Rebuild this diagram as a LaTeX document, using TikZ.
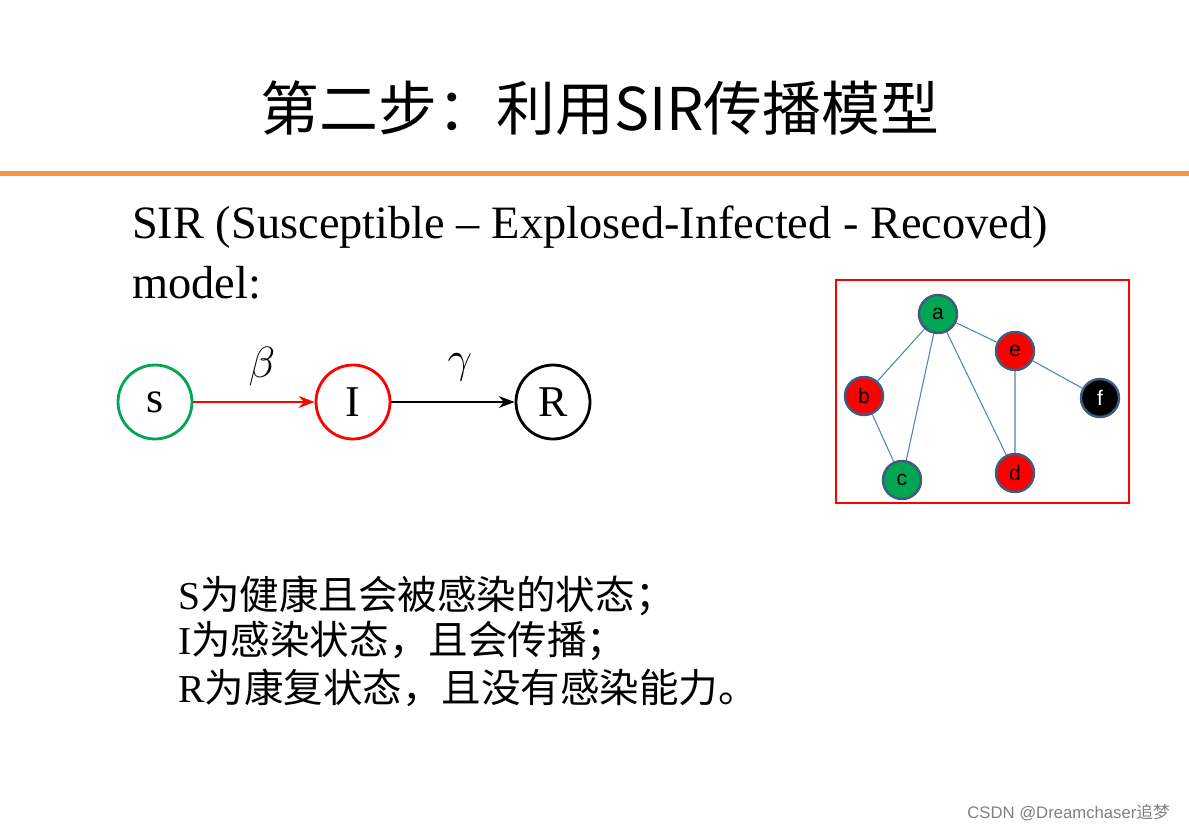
\documentclass[tikz,border=0pt]{standalone}
\usepackage{fontspec}
\setmainfont{Liberation Serif}
\newfontfamily\cjk{Noto Sans CJK SC}
\newfontfamily\lsans{Liberation Sans}
\usetikzlibrary{arrows.meta}
\definecolor{orng}{HTML}{F79646}
\definecolor{gedge}{HTML}{4F81BD}
\definecolor{gbord}{HTML}{3F5B7F}
\definecolor{ggreen}{HTML}{00A651}
\tikzset{
  big/.style={circle,draw,line width=1.6pt,minimum size=1.48cm,inner sep=0pt,font=\fontsize{25}{25}\selectfont},
  gn/.style={circle,draw=gbord,line width=1.4pt,minimum size=0.76cm,inner sep=0pt,font=\lsans\fontsize{12}{12}\selectfont},
  ge/.style={gedge,line width=0.6pt},
  arr/.style={line width=1.4pt,-{Stealth[length=9pt]}}
}
\begin{document}
\begin{tikzpicture}[x=0.02cm,y=-0.02cm]
\useasboundingbox (0,0) rectangle (1189,833);
\node (title) at (600,108) {\fontsize{33.5}{33.5}\selectfont\cjk 第二步：利用SIR传播模型};
\fill[orng] (0,171) rectangle (1189,176);
\node[anchor=west] (l1) at (126,227) {\fontsize{26.4}{26.4}\selectfont SIR (Susceptible – Explosed-Infected - Recoved)};
\node[anchor=west] (l2) at (126,283) {\fontsize{26.4}{26.4}\selectfont model:};
\node[big,draw=ggreen] (s) at (155,402) {s};
\node[big,draw=red] (i) at (353,402) {I};
\node[big,draw=black] (r) at (553,402) {R};
\draw[arr,red] (s) -- (i);
\draw[arr,black] (i) -- (r);
\node (beta) at (262,367) {\fontsize{25}{25}\selectfont$\beta$};
\node (gamma) at (460,367) {\fontsize{25}{25}\selectfont$\gamma$};
\draw[red,line width=1.3pt] (836,280) rectangle (1129,503);
\node[gn,fill=ggreen] (a) at (938,314) {a};
\node[gn,fill=red] (e) at (1015,351) {e};
\node[gn,fill=red] (b) at (864,396) {b};
\node[gn,fill=black,text=white] (f) at (1100,398) {f};
\node[gn,fill=ggreen] (c) at (902,480) {c};
\node[gn,fill=red] (d) at (1015,473) {d};
\draw[ge] (a)--(e) (a)--(b) (a)--(c) (a)--(d) (b)--(c) (e)--(d) (e)--(f);
\node[anchor=west] (t1) at (172,596) {\fontsize{22.5}{22.5}\selectfont S\cjk 为健康且会被感染的状态；};
\node[anchor=west] (t2) at (172,641) {\fontsize{22.5}{22.5}\selectfont I\cjk 为感染状态，且会传播；};
\node[anchor=west] (t3) at (172,688) {\fontsize{22.5}{22.5}\selectfont R\cjk 为康复状态，且没有感染能力。};
\node[anchor=east,text=gray] (wm) at (1176,813) {\fontsize{9.5}{9.5}\selectfont\lsans CSDN @Dreamchaser\cjk 追梦};
\end{tikzpicture}
\end{document}
